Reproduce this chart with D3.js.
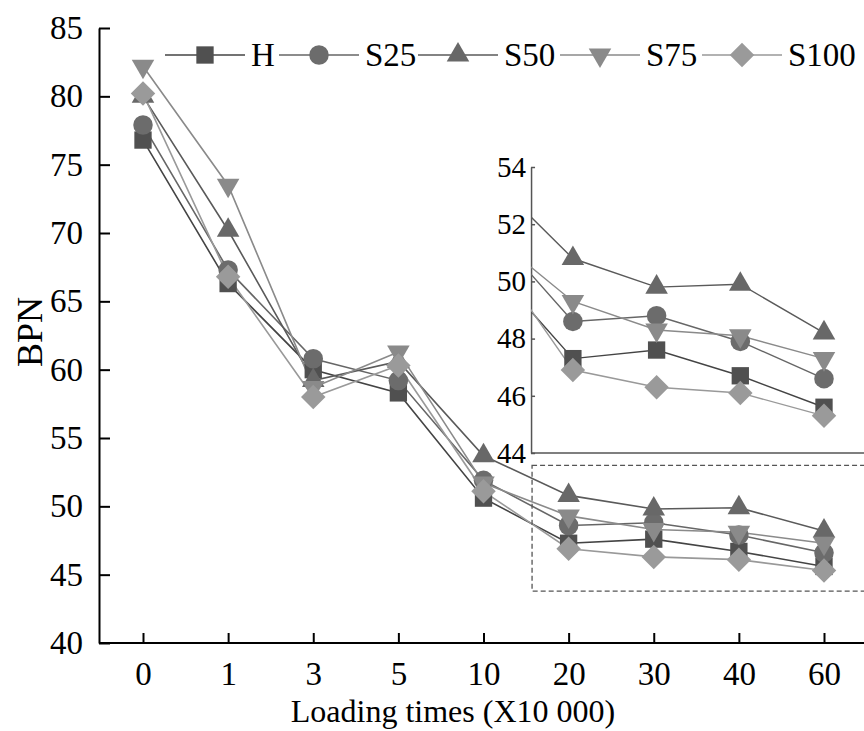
<!DOCTYPE html>
<html>
<head>
<meta charset="utf-8">
<script src="https://cdn.jsdelivr.net/npm/d3@7"></script>
<style>
  body { margin: 0; background: #fff; }
  svg { display: block; font-family: "Liberation Serif", "Times New Roman", serif; }
</style>
</head>
<body>
<div id="chart"></div>
<script>
// categories on the x axis (loading times, x10 000)
const loadingTimes = ["0", "1", "3", "5", "10", "20", "30", "40", "60"];
const seriesNames = ["H", "S25", "S50", "S75", "S100"];

// BPN values
const valuesH    = [76.8, 66.3, 60.0, 58.3, 50.6, 47.3, 47.6, 46.7, 45.6];
const valuesS25  = [77.9, 67.3, 60.8, 59.2, 51.9, 48.6, 48.8, 47.9, 46.6];
const valuesS50  = [80.0, 70.2, 59.2, 60.6, 53.7, 50.8, 49.8, 49.9, 48.2];
const valuesS75  = [82.2, 73.5, 58.7, 61.3, 51.7, 49.3, 48.3, 48.1, 47.3];
const valuesS100 = [80.2, 66.8, 58.0, 60.3, 51.1, 46.9, 46.3, 46.1, 45.3];

const mainTicks = [40, 45, 50, 55, 60, 65, 70, 75, 80, 85];
const insetTicks = [44, 46, 48, 50, 52, 54];

const allValues = [valuesH, valuesS25, valuesS50, valuesS75, valuesS100];
const markerFill = ["#505050", "#6c6c6c", "#686868", "#8a8a8a", "#9a9a9a"];
const lineColor = ["#444", "#666", "#5a5a5a", "#8a8a8a", "#999"];

const width = 864, height = 731;
const svg = d3.select("#chart").append("svg")
    .attr("width", width)
    .attr("height", height);

// main scales
const x = d3.scalePoint().domain(loadingTimes).range([143, 824]);
const y = d3.scaleLinear().domain([40, 85]).range([643, 28]);

// draw a marker for series i
function marker(g, i) {
    const p = g.append("path")
        .attr("fill", markerFill[i])
        .attr("stroke", "none");
    if (i === 0) p.attr("d", d3.symbol(d3.symbolSquare, 300)());
    else if (i === 1) p.attr("d", d3.symbol(d3.symbolCircle, 300)());
    else if (i === 2) p.attr("d", d3.symbol(d3.symbolTriangle, 220)());
    else if (i === 3) p.attr("d", d3.symbol(d3.symbolTriangle, 220)()).attr("transform", "rotate(180)");
    else p.attr("d", d3.symbol(d3.symbolSquare, 300)()).attr("transform", "rotate(45)");
}

// axes
const yAxis = svg.append("g")
    .attr("transform", `translate(99,0)`)
    .call(d3.axisLeft(y).tickValues(mainTicks).tickSizeInner(-11).tickSizeOuter(0).tickPadding(16));
yAxis.select(".domain").attr("stroke", "#000").attr("stroke-width", 2);
yAxis.selectAll(".tick line").attr("stroke", "#000").attr("stroke-width", 2);
yAxis.selectAll(".tick text").attr("font-size", 33).attr("fill", "#000")
    .attr("font-family", "Liberation Serif");

const xAxis = svg.append("g")
    .attr("transform", `translate(0,643)`)
    .call(d3.axisBottom(x).tickSizeInner(-10).tickSizeOuter(0).tickPadding(19));
xAxis.select(".domain").attr("d", "M99,0H864").attr("stroke", "#000").attr("stroke-width", 2);
xAxis.selectAll(".tick line").attr("stroke", "#000").attr("stroke-width", 2);
xAxis.selectAll(".tick text").attr("font-size", 33).attr("fill", "#000")
    .attr("font-family", "Liberation Serif");

svg.append("text")
    .attr("x", 453).attr("y", 722)
    .attr("text-anchor", "middle")
    .attr("font-size", 32)
    .text("Loading times (X10 000)");

svg.append("text")
    .attr("transform", "translate(42,332) rotate(-90)")
    .attr("text-anchor", "middle")
    .attr("font-size", 36)
    .text("BPN");

// main series
const line = d3.line()
    .x((d, j) => x(loadingTimes[j]))
    .y(d => y(d));

allValues.forEach((vals, i) => {
    svg.append("path")
        .datum(vals)
        .attr("fill", "none")
        .attr("stroke", lineColor[i])
        .attr("stroke-width", 1.6)
        .attr("d", line);
});
allValues.forEach((vals, i) => {
    vals.forEach((v, j) => {
        const g = svg.append("g").attr("transform", `translate(${x(loadingTimes[j])},${y(v)})`);
        marker(g, i);
    });
});

// dashed box marking the zoomed region
const boxLow = 43.8, boxHigh = 53.0;
const boxX0 = (x("10") + x("20")) / 2 + 6;
svg.append("rect")
    .attr("x", boxX0)
    .attr("y", y(boxHigh))
    .attr("width", width - boxX0 + 4)
    .attr("height", y(boxLow) - y(boxHigh))
    .attr("fill", "none")
    .attr("stroke", "#555")
    .attr("stroke-width", 1.3)
    .attr("stroke-dasharray", "5,3");

// inset
const step = 83.7;
const xi = d3.scalePoint().domain(loadingTimes).range([824 - 8 * step, 824]);
const yi = d3.scaleLinear().domain([44, 54]).range([453, 167]);
const insetLeft = (xi("10") + xi("20")) / 2;

svg.append("rect")
    .attr("x", insetLeft).attr("y", 150)
    .attr("width", width - insetLeft).attr("height", 304)
    .attr("fill", "#fff");

svg.append("clipPath").attr("id", "insetClip")
    .append("rect")
    .attr("x", insetLeft).attr("y", 150)
    .attr("width", width - insetLeft).attr("height", 310);

const inset = svg.append("g");
const iyAxis = inset.append("g")
    .attr("transform", `translate(${insetLeft},0)`)
    .call(d3.axisLeft(yi).tickValues(insetTicks).tickSizeInner(-4).tickSizeOuter(0).tickPadding(5));
iyAxis.select(".domain").attr("stroke", "#555").attr("stroke-width", 1.5);
iyAxis.selectAll(".tick line").attr("stroke", "#555").attr("stroke-width", 1.5);
iyAxis.selectAll(".tick text").attr("font-size", 29).attr("fill", "#000")
    .attr("font-family", "Liberation Serif");
inset.append("line")
    .attr("x1", insetLeft).attr("x2", width)
    .attr("y1", yi(44)).attr("y2", yi(44))
    .attr("stroke", "#555").attr("stroke-width", 1.5);

const iline = d3.line()
    .x((d, j) => xi(loadingTimes[j]))
    .y(d => yi(d));
const insetData = inset.append("g").attr("clip-path", "url(#insetClip)");
allValues.forEach((vals, i) => {
    insetData.append("path")
        .datum(vals)
        .attr("fill", "none")
        .attr("stroke", lineColor[i])
        .attr("stroke-width", 1.4)
        .attr("d", iline);
});
allValues.forEach((vals, i) => {
    vals.forEach((v, j) => {
        if (xi(loadingTimes[j]) < insetLeft) return;
        const g = insetData.append("g").attr("transform", `translate(${xi(loadingTimes[j])},${yi(v)})`);
        marker(g, i);
    });
});

// legend
const legendX = [205, 319, 458, 600, 742];
const legendY = 55;
const legend = svg.append("g");
seriesNames.forEach((name, i) => {
    const cx = legendX[i];
    legend.append("line")
        .attr("x1", cx - 40).attr("x2", cx + 40)
        .attr("y1", legendY).attr("y2", legendY)
        .attr("stroke", lineColor[i]).attr("stroke-width", 1.6);
    const g = legend.append("g").attr("transform", `translate(${cx},${legendY})`);
    marker(g, i);
    legend.append("text")
        .attr("x", cx + 46).attr("y", legendY + 11)
        .attr("font-size", 33)
        .text(name);
});
</script>
</body>
</html>
